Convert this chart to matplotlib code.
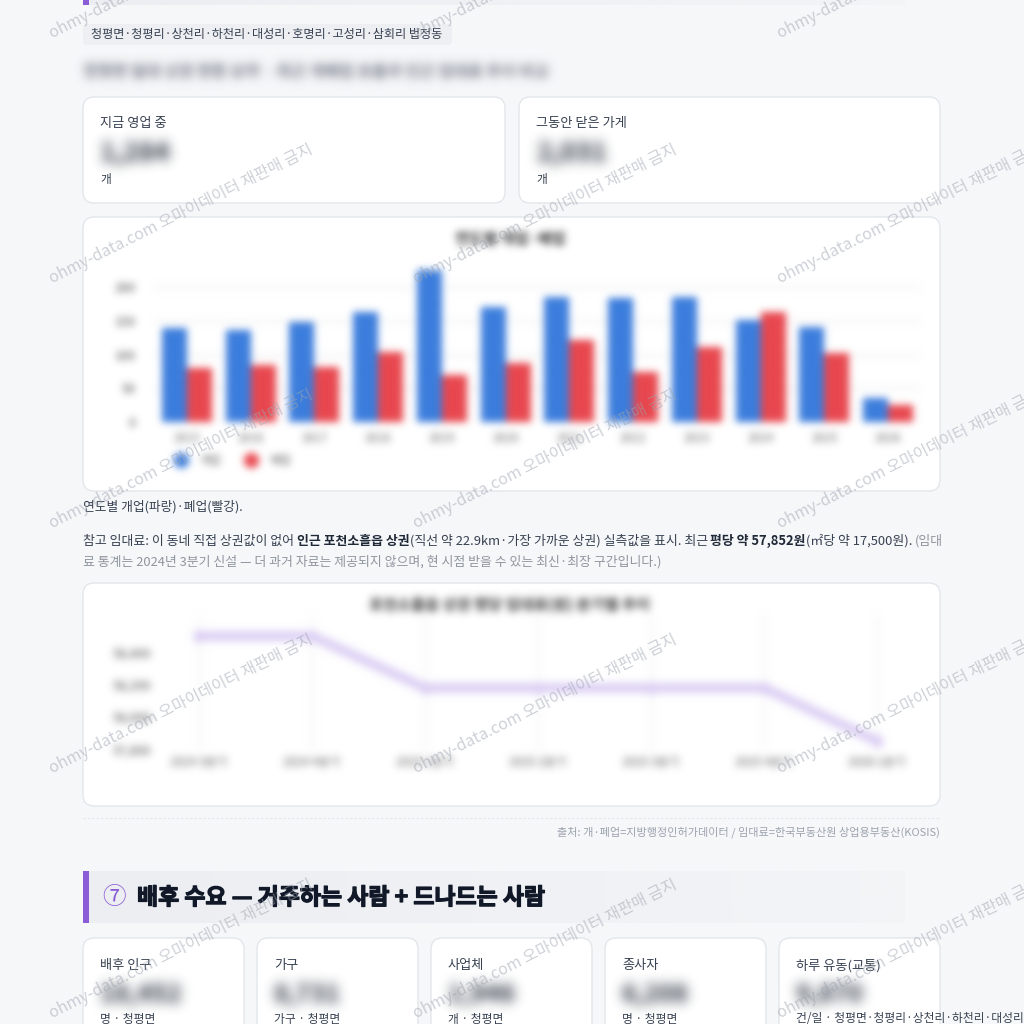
import numpy as np
import matplotlib
matplotlib.use('Agg')
import matplotlib.pyplot as plt
import matplotlib.patheffects as pe
from matplotlib.patches import FancyBboxPatch, Rectangle
from matplotlib.lines import Line2D

plt.rcParams['font.family'] = ['Noto Sans CJK KR', 'DejaVu Sans']

# ---------------- data ----------------
region_chip = "청평면·청평리·상천리·하천리·대성리·호명리·고성리·삼회리 법정동"
blur_subtitle = "청평면 일대 상권 현황 요약 · 최근 개폐업 흐름과 인근 임대료 추이 비교"
top_cards = ["지금 영업 중", "그동안 닫은 가게"]
top_values = ["1,284", "2,031"]
top_units = ["개", "개"]

years = ['2015', '2016', '2017', '2018', '2019', '2020',
         '2021', '2022', '2023', '2024', '2025', '2026']
opened = [139, 136, 148, 163, 225, 170, 185, 184, 185, 151, 141, 36]
closed = [80, 84, 81, 104, 70, 87, 121, 74, 111, 163, 102, 25]
bar_title = "연도별 개업·폐업"
bar_legend = ["개업", "폐업"]
bar_yticks = [0, 50, 100, 150, 200]

caption = "연도별 개업(파랑)·폐업(빨강)."

quarters = ['2024 3분기', '2024 4분기', '2025 1분기', '2025 2분기',
            '2025 3분기', '2025 4분기', '2026 1분기']
rent = [58500, 58500, 58180, 58180, 58180, 58180, 57852]
rent_yticks = [57800, 58000, 58200, 58400]
line_title = "포천소흘읍 상권 평당 임대료(원) 분기별 추이"

source_text = "출처: 개·폐업=지방행정인허가데이터 / 임대료=한국부동산원 상업용부동산(KOSIS)"
section_num = "⑦"
section_title = "배후 수요 — 거주하는 사람 + 드나드는 사람"
metrics = ["배후 인구", "가구", "사업체", "종사자", "하루 유동(교통)"]
metric_values = ["18,452", "8,731", "1,946", "6,208", "9,870"]
metric_units = ["명 · 청평면", "가구 · 청평면", "개 · 청평면", "명 · 청평면",
                "건/일 · 청평면·청평리·상천리·하천리·대성리·호명리·고성리·삼회리"]
watermark = "ohmy-data.com 오마이데이터 재판매 금지"

# ---------------- style ----------------
BG = '#f6f7f9'
CARD_EC = '#e3e6ea'
TXT = '#374151'
BLUE = '#3b7ddd'
RED = '#e8474e'
PURPLE = '#8b5cd6'


def make_blur(sigma):
    def filt(im, dpi):
        s = sigma * dpi / 100.0
        r = max(1, int(3 * s))
        xk = np.arange(-r, r + 1)
        k = np.exp(-xk ** 2 / (2 * s * s))
        k /= k.sum()
        a = im[..., 3:4]
        pm = np.concatenate([im[..., :3] * a, a], axis=2)
        pm = np.pad(pm, ((r, r), (r, r), (0, 0)))
        tmp = np.zeros_like(pm)
        for i, w in enumerate(k):
            tmp += w * np.roll(pm, i - r, axis=0)
        out = np.zeros_like(pm)
        for i, w in enumerate(k):
            out += w * np.roll(tmp, i - r, axis=1)
        a2 = np.clip(out[..., 3:4], 0, 1)
        rgb = np.clip(out[..., :3] / np.maximum(a2, 1e-6), 0, 1)
        return np.concatenate([rgb, a2], axis=2), -r, -r
    return filt


fig = plt.figure(figsize=(10.24, 10.24), dpi=100)
fig.patch.set_facecolor(BG)
pg = fig.add_axes([0, 0, 1, 1])
pg.set_facecolor(BG)
pg.axis('off')


def fix_pg():
    pg.set_aspect('auto')
    pg.set_xlim(0, 1024)
    pg.set_ylim(1024, 0)


fix_pg()


def card(x0, y0, x1, y1, r=11):
    pg.add_patch(FancyBboxPatch((x0, y0), x1 - x0, y1 - y0,
                                boxstyle=f"round,pad=0,rounding_size={r}",
                                fc='white', ec=CARD_EC, lw=1.0, zorder=2))


def px_axes(x0, y0, x1, y1):
    return fig.add_axes([x0 / 1024, 1 - y1 / 1024, (x1 - x0) / 1024, (y1 - y0) / 1024])


def heading_bar(y0, y1):
    grad = np.ones((1, 256, 4))
    c = matplotlib.colors.to_rgb('#eceef2')
    grad[..., 0], grad[..., 1], grad[..., 2] = c
    grad[..., 3] = np.linspace(1.0, 0.3, 256)
    pg.imshow(grad, extent=[89, 905, y1, y0], aspect='auto', zorder=1, interpolation='bilinear')
    pg.add_patch(Rectangle((83, y0), 6, y1 - y0, fc=PURPLE, ec='none', zorder=2))


# top leftover heading
heading_bar(-20, 5)

# chip
pg.add_patch(FancyBboxPatch((83, 24), 369, 21, boxstyle="round,pad=0,rounding_size=4",
                            fc='#edeff3', ec='none', zorder=2))
pg.text(91, 34.5, region_chip, fontsize=8.75, color=TXT, va='center', ha='left', zorder=3)

# blurred subtitle
pg.text(83, 72, blur_subtitle, fontsize=11.5, fontweight='bold', color='#6b7280', va='center',
        ha='left', zorder=3, agg_filter=make_blur(5))

# top cards
for (x0, x1), lab, val, unit in zip([(83, 505), (519, 940)], top_cards, top_values, top_units):
    card(x0, 97, x1, 203)
    pg.text(x0 + 17, 123, lab, fontsize=9.5, color=TXT, va='center', ha='left', zorder=3)
    pg.text(x0 + 17, 153, val, fontsize=19, fontweight='bold', color='#1f2937', va='center',
            ha='left', zorder=3, agg_filter=make_blur(6))
    pg.text(x0 + 17, 180, unit, fontsize=8.5, color=TXT, va='center', ha='left', zorder=3)

# chart cards
card(83, 217, 940, 491)
card(83, 583, 940, 806)

# caption and paragraph
pg.text(83, 507, caption, fontsize=9.2, color=TXT, va='center', ha='left', zorder=3)

renderer = fig.canvas.get_renderer()


def measure(s, size, weight='normal'):
    t = pg.text(0, 0, s, fontsize=size, fontweight=weight)
    w = t.get_window_extent(renderer=renderer).width
    t.remove()
    return w


PSIZE = 9.3
space_w = measure('가 가', PSIZE) - measure('가가', PSIZE)


def rich(x, y, segs):
    for s, wgt, col in segs:
        trail = len(s) - len(s.rstrip(' '))
        core = s.rstrip(' ')
        t = pg.text(x, y, core, fontsize=PSIZE, fontweight=wgt, color=col,
                    va='center', ha='left', zorder=3)
        x += t.get_window_extent(renderer=renderer).width + trail * space_w
    return x


GRAY = '#8f959e'
rich(83, 541, [
    ("참고 임대료: 이 동네 직접 상권값이 없어 ", 'normal', TXT),
    ("인근 포천소흘읍 상권", 'bold', '#1f2937'),
    ("(직선 약 22.9km·가장 가까운 상권) 실측값을 표시. 최근 ", 'normal', TXT),
    ("평당 약 57,852원", 'bold', '#1f2937'),
    ("(㎡당 약 17,500원). ", 'normal', TXT),
    ("(임대", 'normal', GRAY),
])
rich(83, 562, [
    ("료 통계는 2024년 3분기 신설 — 더 과거 자료는 제공되지 않으며, 현 시점 받을 수 있는 최신·최장 구간입니다.)",
     'normal', GRAY),
])

# separator and source
pg.plot([83, 940], [818, 818], color='#e2e5e9', lw=0.8, ls=(0, (2, 2)), zorder=2)
pg.text(940, 832, source_text, fontsize=8, color='#9ca3af', va='center', ha='right', zorder=3)

# section heading
heading_bar(871, 923)
pg.text(102, 898, section_num, fontsize=17, color=PURPLE, va='center', ha='left', zorder=3)
pg.text(137, 898, section_title, fontsize=16.5, fontweight='bold', color='#111827',
        va='center', ha='left', zorder=3,
        path_effects=[pe.withStroke(linewidth=0.9, foreground='#111827')])

# bottom metric cards
for i, (lab, val, unit) in enumerate(zip(metrics, metric_values, metric_units)):
    x0 = 83 + i * 174
    card(x0, 938, x0 + 161, 1060)
    pg.text(x0 + 17, 966, lab, fontsize=9.5, color=TXT, va='center', ha='left', zorder=3)
    pg.text(x0 + 17, 995, val, fontsize=18, fontweight='bold', color='#1f2937', va='center',
            ha='left', zorder=3, agg_filter=make_blur(6))
    pg.text(x0 + 17, 1019, unit, fontsize=8.5, color=TXT, va='center', ha='left', zorder=3)

fix_pg()

# ---------------- bar chart ----------------
bx = px_axes(155, 260, 920, 422)
bx.set_facecolor('none')
xs = np.arange(len(years))
bx.bar(xs - 0.196, opened, width=0.39, color=BLUE, zorder=2)
bx.bar(xs + 0.196, closed, width=0.39, color=RED, zorder=2)
bx.set_xlim(-0.5, len(years) - 0.5)
bx.set_ylim(0, 240)
bx.set_yticks(bar_yticks)
bx.set_xticks(xs, years)
bx.grid(axis='y', color='#e9e9e9', lw=1)
bx.set_axisbelow(True)
for s in bx.spines.values():
    s.set_visible(False)
bx.tick_params(axis='y', length=0, labelsize=9, colors='#444', pad=14)
bx.tick_params(axis='x', length=0, labelsize=8.5, colors='#666', pad=7)
bx.set_title(bar_title, fontsize=11, fontweight='bold', color='#333', pad=12, x=0.465)
handles = [Line2D([], [], marker='o', ls='', markersize=10, mfc=BLUE, mec=BLUE),
           Line2D([], [], marker='o', ls='', markersize=10, mfc=RED, mec=RED)]
bx.legend(handles, bar_legend, loc='upper left', bbox_to_anchor=(0.005, -0.13), frameon=False,
          ncol=2, fontsize=8.5, handletextpad=0.5, columnspacing=1.6, labelcolor='#555')
bx.set_agg_filter(make_blur(3.8))

# ---------------- line chart ----------------
lx = px_axes(159.5, 615, 916.5, 750)
lx.set_facecolor('none')
lx.plot(range(len(quarters)), rent, color='#dccff5', lw=7, marker='o', ms=8,
        solid_joinstyle='round', zorder=2)
lx.set_xlim(-0.35, len(quarters) - 1 + 0.35)
lx.set_ylim(57797, 58630)
lx.set_yticks(rent_yticks, [f"{v:,}" for v in rent_yticks])
lx.set_xticks(range(len(quarters)), quarters)
lx.grid(axis='x', color='#ededed', lw=1)
lx.set_axisbelow(True)
for s in lx.spines.values():
    s.set_visible(False)
lx.tick_params(axis='y', length=0, labelsize=9, colors='#444', pad=6)
lx.tick_params(axis='x', length=0, labelsize=8.5, colors='#555', pad=4)
lx.set_title(line_title, fontsize=11, fontweight='bold', color='#333', pad=4, x=0.463)
lx.set_agg_filter(make_blur(4))

# ---------------- watermark overlay ----------------
wm = fig.add_axes([0, 0, 1, 1])
wm.set_xlim(0, 1024)
wm.set_ylim(1024, 0)
wm.axis('off')
wm.patch.set_visible(False)
for yy in [38, 283, 528, 773, 1018]:
    for xx in [52, 416, 780]:
        wm.text(xx, yy, watermark, fontsize=11.5, color='#9ca3af', alpha=0.5, rotation=26.5,
                rotation_mode='anchor', ha='left', va='baseline', clip_on=False)

fig.savefig('out.png', dpi=100, facecolor=BG)
